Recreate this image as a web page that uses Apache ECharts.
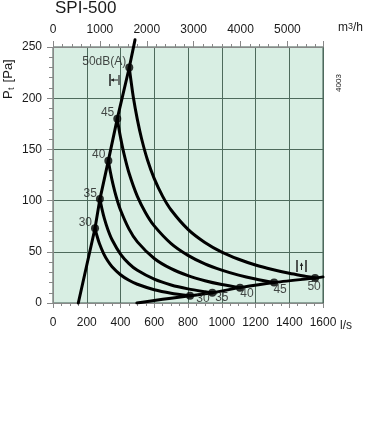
<!DOCTYPE html>
<html><head><meta charset="utf-8">
<script src="https://cdn.jsdelivr.net/npm/echarts@6/dist/echarts.min.js"></script>
<style>html,body{margin:0;padding:0;background:#fff}#c{width:367px;height:422px}</style>
</head><body><div id="c"></div>
<script>
// ---- data (flow in l/s, pressure in Pa) ----
const title = 'SPI-500';
const flowMin = 0, flowMax = 1600, flowStep = 200;
const presMin = 0, presMax = 250, presStep = 50;
const m3hMax = 5760, m3hStep = 1000;
const steepLine = [[150,0],[249,73],[278,101.5],[328,139],[381,180],[452,230],[486,257]];
const lowerLine = [[497,0],[600,2.4],[700,4.7],[812,7],[944,10],[1108,15],[1310,20],[1553,24.4],[1600,25.5]];
const curve30 = [[249,73],[260,65.9],[275,58.1],[300,48.3],[325,41],[350,35.5],[400,27.6],[450,22.2],[500,18.3],[600,13],[700,9.6],[812,7]];
const curve35 = [[278,101.5],[290,92],[305,82.2],[325,71.8],[350,61.8],[400,47.8],[450,38.5],[500,31.9],[600,23.2],[700,17.6],[800,13.8],[900,11],[944,10]];
const curve40 = [[328,139],[340,128],[355,116.3],[375,103.5],[400,90.8],[450,72.4],[500,59.7],[600,43.5],[700,33.5],[800,26.7],[900,21.8],[1000,18.1],[1108,15]];
const curve45 = [[381,180],[390,170.9],[400,161.8],[420,146.1],[450,127.2],[500,104.1],[550,87.7],[600,75.3],[700,58],[800,46.5],[900,38.2],[1000,32.1],[1100,27.2],[1200,23.4],[1310,20]];
const curve50 = [[452,230],[462,217.3],[476,201],[500,179.1],[525,160.4],[560,139.6],[600,121.4],[650,104.1],[700,90.8],[800,71.9],[900,59.1],[1000,49.7],[1100,42.7],[1200,37.1],[1300,32.7],[1400,29],[1500,26],[1553,24.4]];
const upperDots = [[249,73],[278,101.5],[328,139],[381,180],[452,230]];
const upperNames = ['30','35','40','45','50dB(A)'];
const lowerDots = [[812,7],[944,10],[1108,15],[1310,20],[1553,24.4]];
const lowerNames = ['30','35','40','45','50'];
// label offsets (style only)
const lowerOffsets = [[13,-9],[9.5,-7],[7,-6],[6,-5],[-1,-3]];

const chart = echarts.init(document.getElementById('c'), null, {renderer:'canvas'});
const FONT = 'Liberation Sans, Arial, sans-serif';
const TXT = '#1a1a1a';
const GRIDC = '#4d6a5c';
const lineStyle = {color:'#000', width:3, join:'round', cap:'round'};
function curveSeries(d){
  return {type:'line', data:d, smooth:0.3, showSymbol:false, symbol:'none', lineStyle:lineStyle, clip:true, z:3, silent:true};
}
const option = {
  animation:false,
  textStyle:{fontFamily:FONT},
  grid:{left:53, right:44, top:47, bottom:119, show:true, backgroundColor:'#d8eee3', borderColor:'#3f5b4e', borderWidth:1},
  xAxis:[{
    type:'value', min:flowMin, max:flowMax, interval:flowStep, position:'bottom',
    axisLine:{show:true, onZero:false, lineStyle:{color:'#888', width:1}},
    axisTick:{show:true, length:5, lineStyle:{color:'#888'}},
    minorTick:{show:true, splitNumber:4, length:3, lineStyle:{color:'#888'}},
    axisLabel:{color:TXT, fontSize:12, fontFamily:FONT, margin:14, formatter:function(v){return String(v);}},
    splitLine:{show:true, lineStyle:{color:GRIDC, width:1}}
  },{
    type:'value', min:0, max:m3hMax, interval:m3hStep, position:'top',
    axisLine:{show:true, onZero:false, lineStyle:{color:'#888', width:1}},
    axisTick:{show:true, length:6, lineStyle:{color:'#888'}},
    minorTick:{show:true, splitNumber:5, length:3, lineStyle:{color:'#888'}},
    axisLabel:{color:TXT, fontSize:12, fontFamily:FONT, margin:11, showMaxLabel:false,
      formatter:function(v){return v % 1000 === 0 ? String(v) : '';}},
    splitLine:{show:false}
  }],
  yAxis:[{
    type:'value', min:presMin, max:presMax, interval:presStep,
    axisLine:{show:true, onZero:false, lineStyle:{color:'#888', width:1}},
    axisTick:{show:true, length:6, lineStyle:{color:'#888'}},
    minorTick:{show:true, splitNumber:5, length:4, lineStyle:{color:'#888'}},
    axisLabel:{color:TXT, fontSize:12, fontFamily:FONT, margin:11},
    splitLine:{show:true, lineStyle:{color:GRIDC, width:1}}
  }],
  series:[
    {type:'line', data:steepLine, showSymbol:false, symbol:'none', lineStyle:lineStyle, clip:false, z:3, silent:true},
    {type:'line', data:lowerLine, smooth:0.2, showSymbol:false, symbol:'none', lineStyle:lineStyle, clip:true, z:3, silent:true},
    curveSeries(curve30), curveSeries(curve35), curveSeries(curve40), curveSeries(curve45), curveSeries(curve50),
    {type:'scatter', data:upperDots.map(function(p,i){return {value:p, name:upperNames[i]};}),
      symbolSize:8, itemStyle:{color:'#000'}, z:5, silent:true,
      label:{show:true, position:'left', distance:3, offset:[4,-5.5], formatter:'{b}', color:TXT, fontSize:12, fontFamily:FONT}},
    {type:'scatter', data:lowerDots.map(function(p,i){return {value:p, name:lowerNames[i],
        label:{offset:lowerOffsets[i]}};}),
      symbolSize:8, itemStyle:{color:'#000'}, z:5, silent:true,
      label:{show:true, position:'bottom', distance:2, formatter:'{b}', color:TXT, fontSize:12, fontFamily:FONT}}
  ],
  graphic:[
    {type:'text', left:55, top:0, style:{text:title, font:'17px '+FONT, fill:TXT}},
    {type:'text', left:338, top:22, style:{text:'{a|m}{b|3}{a|/h}', rich:{a:{fontSize:12, fontFamily:FONT, fill:TXT, verticalAlign:'bottom'}, b:{fontSize:9, fontFamily:FONT, fill:TXT, verticalAlign:'top'}}}},
    {type:'text', left:340, top:320, style:{text:'l/s', font:'12px '+FONT, fill:TXT}},
    {type:'group', x:8, y:80, rotation:Math.PI/2, children:[
      {type:'text', x:-19, y:0, style:{text:'P', font:'13px '+FONT, fill:TXT, textVerticalAlign:'middle'}},
      {type:'text', x:-10, y:4, style:{text:'t', font:'9px '+FONT, fill:TXT, textVerticalAlign:'middle'}},
      {type:'text', x:-6, y:0, style:{text:' [Pa]', font:'13px '+FONT, fill:TXT, textVerticalAlign:'middle'}}
    ]},
    {type:'text', x:339, y:83, rotation:Math.PI/2, style:{text:'4003', font:'8px '+FONT, fill:TXT, textAlign:'center', textVerticalAlign:'middle'}},
    // flow tolerance symbol
    {type:'line', shape:{x1:110,y1:74,x2:110,y2:86}, style:{stroke:'#222', lineWidth:1.5}},
    {type:'line', shape:{x1:119,y1:75,x2:119,y2:85}, style:{stroke:'#222', lineWidth:1.2}},
    {type:'line', shape:{x1:111,y1:80,x2:118,y2:80}, style:{stroke:'#222', lineWidth:1}},
    {type:'polygon', shape:{points:[[111,80],[114,78.3],[114,81.7]]}, style:{fill:'#222'}},
    // pressure tolerance symbol
    {type:'line', shape:{x1:297,y1:260,x2:297,y2:272}, style:{stroke:'#222', lineWidth:1.5}},
    {type:'line', shape:{x1:306,y1:260,x2:306,y2:272}, style:{stroke:'#222', lineWidth:1.5}},
    {type:'line', shape:{x1:301.5,y1:263,x2:301.5,y2:270}, style:{stroke:'#222', lineWidth:1}},
    {type:'polygon', shape:{points:[[301.5,262.5],[299.8,266],[303.2,266]]}, style:{fill:'#222'}}
  ]
};
chart.setOption(option);
</script></body></html>
